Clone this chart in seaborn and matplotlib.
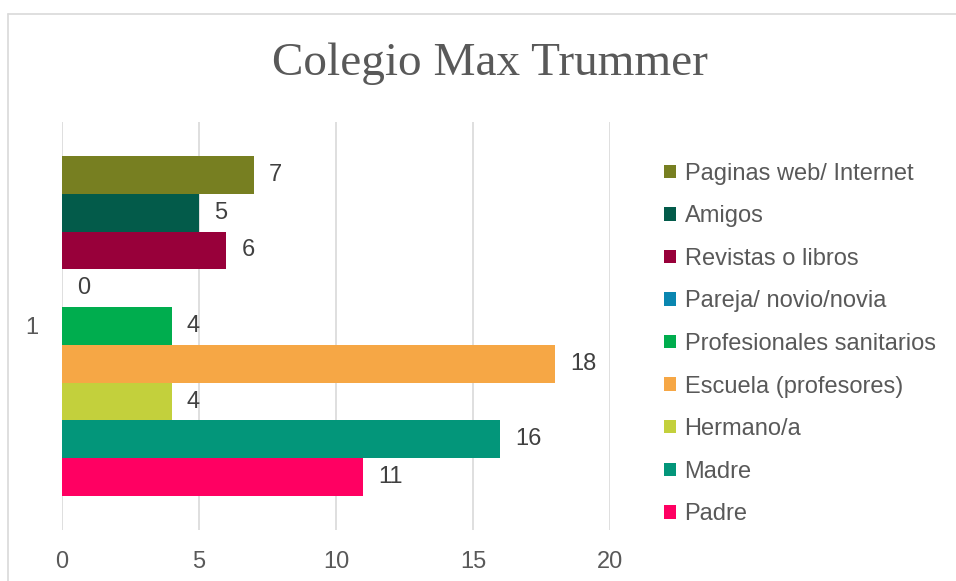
import matplotlib
matplotlib.use("Agg")
import matplotlib.pyplot as plt
import seaborn as sns
import pandas as pd
from matplotlib.lines import Line2D

categories = ["Paginas web/ Internet", "Amigos", "Revistas o libros",
              "Pareja/ novio/novia", "Profesionales sanitarios",
              "Escuela (profesores)", "Hermano/a", "Madre", "Padre"]
values = [7, 5, 6, 0, 4, 18, 4, 16, 11]
group_label = ["1"]
colors = ["#777F21", "#035B4A", "#98003A", "#0A86B0", "#00AD4E",
          "#F6A745", "#C3D03C", "#03967A", "#FF0062"]
x_ticks = [0, 5, 10, 15, 20]
title = "Colegio Max Trummer"

sns.set_theme(style="white")
plt.rcParams['font.family'] = ['Liberation Sans', 'DejaVu Sans']

df = pd.DataFrame({"grupo": group_label * len(categories),
                   "fuente": categories, "valor": values})

fig = plt.figure(figsize=(9.56, 5.81), dpi=100)
ax = fig.add_axes([62/956, 1 - 530/581, (610 - 62)/956, (530 - 122)/581])

sns.barplot(data=df, y="grupo", x="valor", hue="fuente", hue_order=categories,
            palette=colors, orient="h", width=0.833, ax=ax, legend=True,
            saturation=1, linewidth=0, errorbar=None)

ax.set_xlim(0, 20)
ax.set_ylim(0.5, -0.5)
ax.set_xticks(x_ticks)
ax.set_xticklabels([str(t) for t in x_ticks])
ax.tick_params(axis="x", length=0, pad=15, labelsize=17, labelcolor="#595959")
ax.tick_params(axis="y", length=0, pad=17, labelsize=17, labelcolor="#595959")
ax.set_xlabel("")
ax.set_ylabel("")
ax.grid(axis="x", color="#d9d9d9", linewidth=1.2)
ax.grid(axis="y", visible=False)
ax.set_axisbelow(True)
for s in ax.spines.values():
    s.set_visible(False)

for cont in ax.containers:
    ax.bar_label(cont, labels=[f"{int(v)}" for v in cont.datavalues],
                 padding=11, fontsize=17, color="#404040")

handles, labels = ax.get_legend_handles_labels()
ax.get_legend().remove()
fig.legend(handles, labels, loc="center left", bbox_to_anchor=(655/956, 1 - 344/581),
           frameon=False, fontsize=17, labelcolor="#595959",
           handlelength=0.5, handleheight=0.5, handletextpad=0.35,
           labelspacing=0.87, borderaxespad=0)

fig.text(490/956, 1 - 64/581, title, ha="center", va="center",
         fontsize=34, color="#595959", family="Liberation Serif")

fig.add_artist(Line2D([8/956, 8/956], [0, 1 - 14/581], transform=fig.transFigure,
                      color="#d9d9d9", linewidth=1.2))
fig.add_artist(Line2D([8/956, 1], [1 - 14/581, 1 - 14/581], transform=fig.transFigure,
                      color="#d9d9d9", linewidth=1.2))

fig.savefig("out.png", dpi=100)
